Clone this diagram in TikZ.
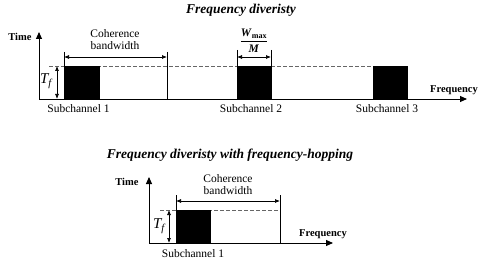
\documentclass[tikz,border=0pt]{standalone}
\usepackage{fontspec}
\usepackage{amsmath}
\setmainfont{Liberation Serif}
\usetikzlibrary{arrows.meta}

\begin{document}
\begin{tikzpicture}[x=1pt,y=-1pt,
  axis/.style={line width=0.9pt, -{Triangle[length=7pt,width=6pt]}},
  dim/.style={line width=0.7pt, {Latex[length=5pt,width=4pt]}-{Latex[length=5pt,width=4pt]}},
  guide/.style={line width=0.6pt},
  level/.style={line width=0.6pt, dash pattern=on 4pt off 2pt, draw=black!60},
  block/.style={fill=black, draw=black, line width=0.6pt},
  heading/.style={font=\fontsize{13.5}{15}\selectfont\bfseries\itshape},
  axislabel/.style={font=\fontsize{10.5}{12}\selectfont\bfseries},
  label/.style={font=\fontsize{11.5}{12}\selectfont, align=center, inner sep=0pt},
  tlabel/.style={font=\fontsize{15}{16}\selectfont\itshape, inner sep=0pt}
]
\useasboundingbox (0,0) rectangle (485,262);

% upper chart
\node[heading] (title1) at (241,10) {Frequency diveristy};
\coordinate (o1) at (39,99);
\coordinate (ytop1) at (39,32);
\coordinate (xend1) at (467,99);
\draw[axis] (o1) -- (ytop1);
\draw[axis] (o1) -- (xend1);
\node[axislabel] (time1) at (20,37) {Time};
\node[axislabel] (freq1) at (454,90) {Frequency};

\coordinate (dashA) at (49,66);
\coordinate (dashB) at (373,66);
\draw[level] (dashA) -- (dashB);

\foreach \l/\r/\n in {64/99/1, 237/271/2, 373/407/3} {
  \draw[block] (\l,66) rectangle (\r,99);
  \node[label] (sub\n) at ({(\l+\r)/2-3},109) {Subchannel \n};
}

% coherence bandwidth
\coordinate (cohL) at (64,52);
\coordinate (cohLb) at (64,66);
\coordinate (cohR) at (167,52);
\coordinate (cohRb) at (167,99);
\draw[guide] (cohL) -- (cohLb);
\draw[guide] (cohR) -- (cohRb);
\coordinate (cohA) at (64,57);
\coordinate (cohB) at (167,57);
\draw[dim] (cohA) -- (cohB);
\node[label] (coh1) at (115,40) {Coherence\\bandwidth};

% subchannel width
\coordinate (wL) at (237,50);
\coordinate (wLb) at (237,66);
\coordinate (wR) at (271,50);
\coordinate (wRb) at (271,66);
\draw[guide] (wL) -- (wLb);
\draw[guide] (wR) -- (wRb);
\coordinate (wA) at (237,57);
\coordinate (wB) at (271,57);
\draw[dim] (wA) -- (wB);
\node[label] (wfrac) at (254,41)
  {$\dfrac{\textbf{\textit{W}}_{\textbf{max}}}{\textbf{\textit{M}}}$};

% slot duration
\coordinate (tfA) at (57,66);
\coordinate (tfB) at (57,99);
\draw[dim] (tfA) -- (tfB);
\node[tlabel] (tf1) at (46,81) {T\textsubscript{f}};

% lower chart
\node[heading] (title2) at (230,155) {Frequency diveristy with frequency-hopping};
\coordinate (o2) at (149,243);
\coordinate (ytop2) at (149,177);
\coordinate (xend2) at (333,243);
\draw[axis] (o2) -- (ytop2);
\draw[axis] (o2) -- (xend2);
\node[axislabel] (time2) at (127,182) {Time};
\node[axislabel] (freq2) at (323,234) {Frequency};

\coordinate (dashC) at (160,210);
\coordinate (dashD) at (280,210);
\draw[level] (dashC) -- (dashD);
\draw[block] (176,210) rectangle (210,243);
\node[label] (sub4) at (193,254) {Subchannel 1};

\coordinate (hopL) at (176,195);
\coordinate (hopLb) at (176,210);
\coordinate (hopR) at (280,195);
\coordinate (hopRb) at (280,243);
\draw[guide] (hopL) -- (hopLb);
\draw[guide] (hopR) -- (hopRb);
\coordinate (hopA) at (176,201);
\coordinate (hopB) at (280,201);
\draw[dim] (hopA) -- (hopB);
\node[label] (coh2) at (228,185) {Coherence\\bandwidth};

\coordinate (tfC) at (169,210);
\coordinate (tfD) at (169,243);
\draw[dim] (tfC) -- (tfD);
\node[tlabel] (tf2) at (159,226) {T\textsubscript{f}};
\end{tikzpicture}
\end{document}
